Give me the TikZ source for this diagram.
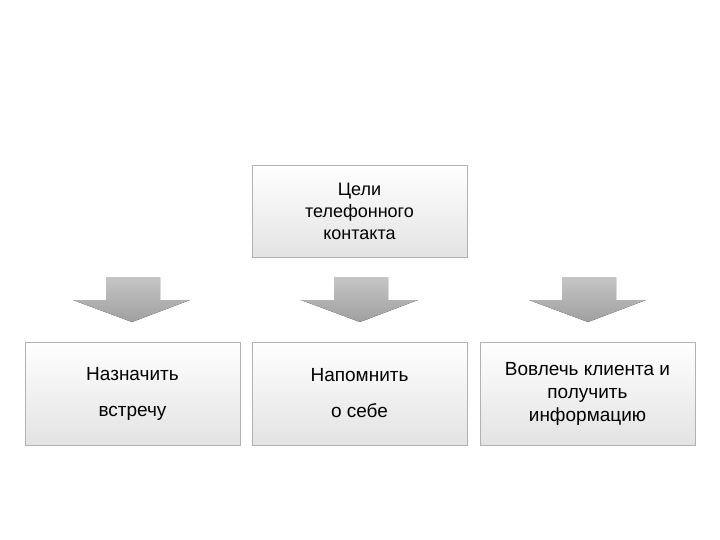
\documentclass[tikz,border=0pt]{standalone}
\usepackage{fontspec}
\setmainfont{Liberation Sans}
\begin{document}
\begin{tikzpicture}[x=1pt,y=-1pt,
  boxstyle/.style={draw=gray!60,top color=white,bottom color=gray!22,inner sep=0pt,align=center},
  arrowstyle/.style={top color=gray!45,bottom color=gray!75,draw=none}]
\useasboundingbox (0,0) rectangle (720,540);
\node[boxstyle,minimum width=215pt,minimum height=92pt,font=\fontsize{18}{22}\selectfont] (top) at (359.5,211) {Цели\\телефонного\\контакта};
\node[boxstyle,minimum width=215pt,minimum height=103pt,font=\fontsize{19}{36}\selectfont] (b1) at (132.5,393.5) {Назначить\\встречу};
\node[boxstyle,minimum width=215pt,minimum height=103pt,font=\fontsize{19}{36}\selectfont] (b2) at (359.5,393.5) {Напомнить\\о себе};
\node[boxstyle,minimum width=215pt,minimum height=103pt,font=\fontsize{19}{23}\selectfont] (b3) at (587.5,393.5) {Вовлечь клиента и\\получить\\информацию};
\foreach \c/\n in {132/a1,360/a2,588/a3}{
  \fill[arrowstyle] (\c-26,277) -- (\c+28,277) -- (\c+28,300) -- (\c+58,300) -- (\c,322) -- (\c-59,300) -- (\c-26,300) -- cycle;
}
\end{tikzpicture}
\end{document}
